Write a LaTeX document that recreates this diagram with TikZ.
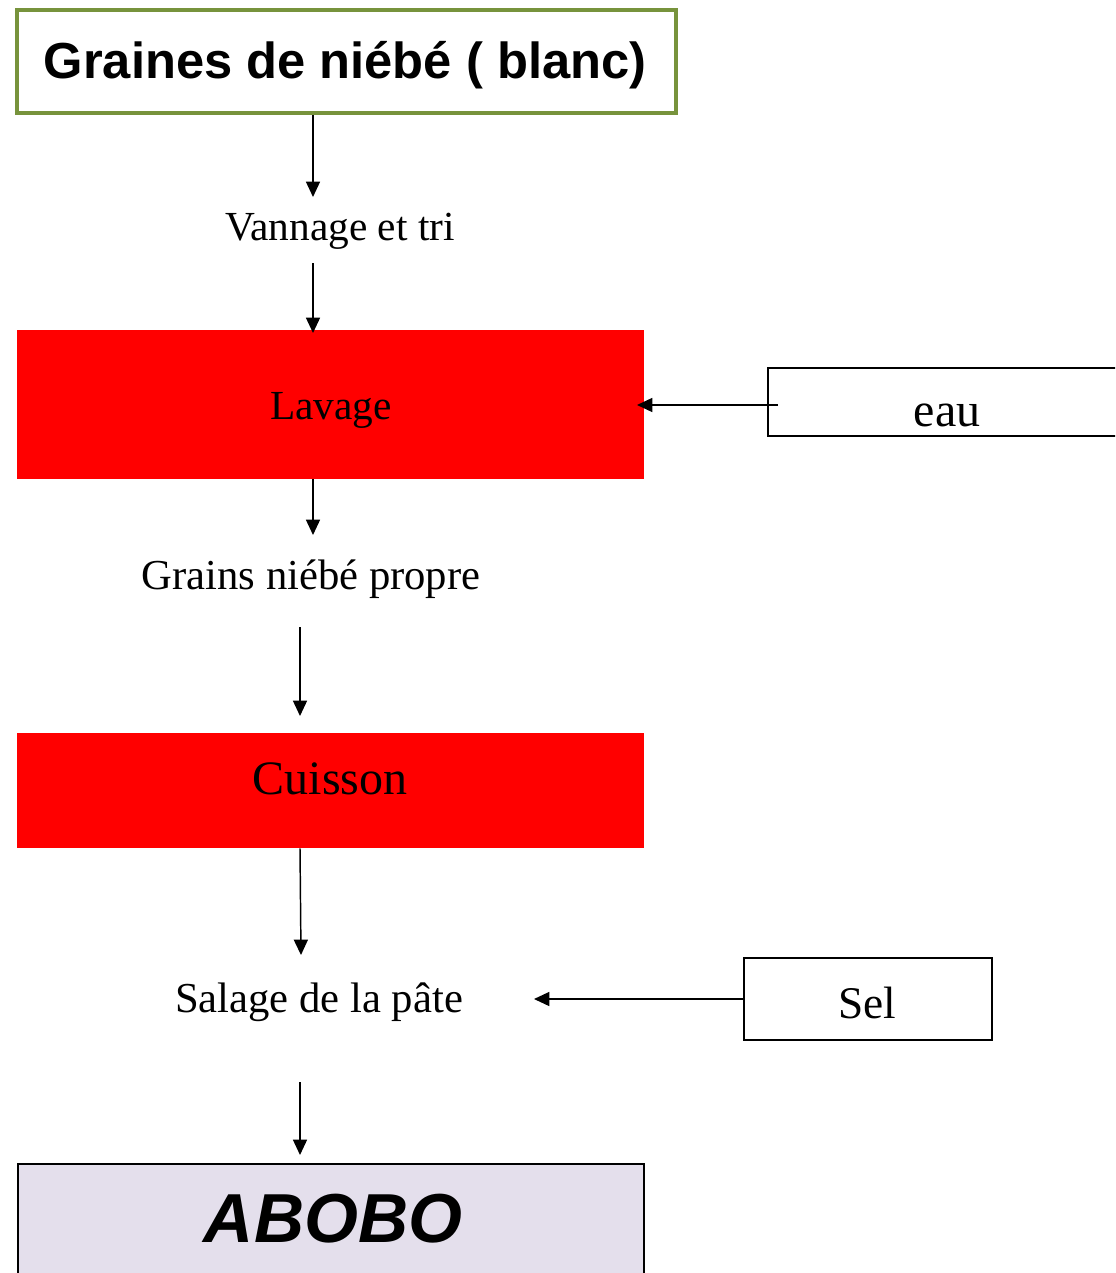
\documentclass[tikz,border=0pt]{standalone}
\usepackage{fontspec}
\setmainfont{Liberation Serif}
\newfontfamily\headsans{Liberation Sans}
\usetikzlibrary{arrows.meta}
\definecolor{leafgreen}{HTML}{77933C}
\definecolor{lavender}{HTML}{E4DFEC}
\begin{document}
\begin{tikzpicture}[x=0.75pt,y=-0.75pt,
  arr/.style={line width=1.1pt,-{Triangle[length=11.5pt,width=10.5pt]}},
  plainbox/.style={draw=black,line width=1.1pt,fill=white,inner sep=0pt},
  redbox/.style={fill=red,draw=none,inner sep=0pt},
  txt/.style={inner sep=0pt,text=black},
]
\clip (0,0) rectangle (1115,1273);
\fill[white] (0,0) rectangle (1115,1273);

% boxes
\node[draw=leafgreen,line width=3pt,fill=white,minimum width=659*0.75pt,minimum height=103*0.75pt,inner sep=0pt]
  (top) at (346.5,61.5) {};
\node[redbox,minimum width=627*0.75pt,minimum height=149*0.75pt] (lavage) at (330.5,404.5) {};
\node[redbox,minimum width=627*0.75pt,minimum height=115*0.75pt] (cuisson) at (330.5,790.5) {};
\node[plainbox,minimum width=358*0.75pt,minimum height=68*0.75pt] (eau) at (947,402) {};
\node[plainbox,minimum width=248*0.75pt,minimum height=82*0.75pt] (sel) at (868,999) {};
\node[draw=black,line width=1.1pt,fill=lavender,minimum width=626*0.75pt,minimum height=130*0.75pt,inner sep=0pt]
  (abobo) at (331,1229) {};

% texts
\node[txt,font=\headsans\bfseries\fontsize{38}{41}\selectfont] (toptxt) at (345,65) {Graines de niébé ( blanc)};
\node[txt,font=\fontsize{31}{34}\selectfont] (vannage) at (340,231) {Vannage et tri};
\node[txt,font=\fontsize{31}{34}\selectfont] (lavagetxt) at (331,410) {Lavage};
\node[txt,font=\fontsize{36}{40}\selectfont] (eautxt) at (947,415) {eau};
\node[txt,font=\fontsize{32}{35}\selectfont] (grains) at (311,579) {Grains niébé propre};
\node[txt,font=\fontsize{36}{40}\selectfont] (cuissontxt) at (330,779) {Cuisson};
\node[txt,font=\fontsize{32}{35}\selectfont] (salage) at (319,1002) {Salage de la pâte};
\node[txt,font=\fontsize{34}{37}\selectfont] (seltxt) at (867,1003) {Sel};
\node[txt,font=\headsans\bfseries\itshape\fontsize{52}{56}\selectfont] (abobotxt) at (333,1219) {ABOBO};

% arrow ends
\coordinate (e1) at (313,197);
\coordinate (s2) at (313,263);
\coordinate (e2) at (313,333);
\coordinate (e3) at (313,535);
\coordinate (s4) at (300,627);
\coordinate (e4) at (300,716);
\coordinate (e5) at (301,955);
\coordinate (s6) at (300,1082);
\coordinate (e6) at (300,1155);
\coordinate (seau) at (778,405);
\coordinate (eeau) at (637,405);
\coordinate (esel) at (534,999);

% connectors
\draw[arr] (top.south -| e1) -- (e1);
\draw[arr] (s2) -- (e2);
\draw[arr] (lavage.south -| e3) -- (e3);
\draw[arr] (s4) -- (e4);
\draw[arr] (cuisson.south -| s4) -- (e5);
\draw[arr] (s6) -- (e6);
\draw[arr] (seau) -- (eeau);
\draw[arr] (sel.west) -- (esel);
\end{tikzpicture}
\end{document}
